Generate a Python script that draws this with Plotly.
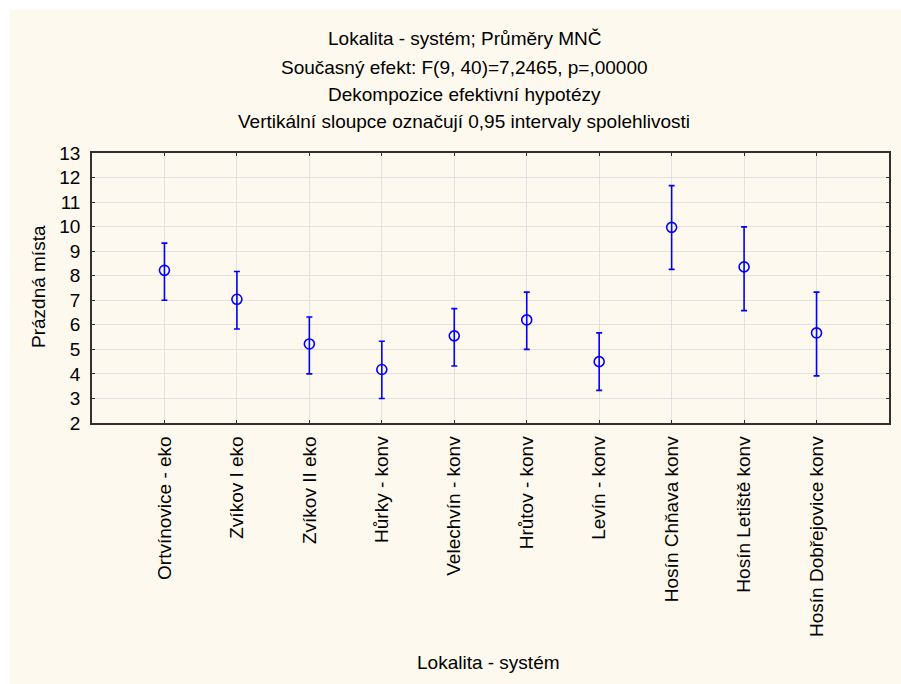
import plotly.graph_objects as go

categories = ["Ortvínovice - eko", "Zvíkov I eko", "Zvíkov II eko", "Hůrky - konv",
              "Velechvín - konv", "Hrůtov - konv", "Levín - konv", "Hosín Chňava konv",
              "Hosín Letiště konv", "Hosín Dobřejovice konv"]
means = [8.22, 7.04, 5.22, 4.18, 5.55, 6.20, 4.50, 9.97, 8.36, 5.67]
upper = [9.33, 8.17, 6.32, 5.33, 6.66, 7.33, 5.67, 11.67, 9.99, 7.33]
lower = [7.00, 5.83, 4.00, 3.00, 4.32, 5.00, 3.33, 8.26, 6.58, 3.92]
y_ticks = list(range(2, 14))

positions = list(range(1, len(categories) + 1))
err_plus = [u - m for u, m in zip(upper, means)]
err_minus = [m - l for m, l in zip(means, lower)]

W, H = 901, 684
ml, mr, mt, mb = 92, 12, 153, 261
FONT = "Arial, 'Liberation Sans', sans-serif"
FS = 19

fig = go.Figure()
fig.add_trace(go.Scatter(
    x=positions, y=means, mode="markers",
    marker=dict(symbol="circle-open", size=10, color="#0000FF", line=dict(width=1.6, color="#0000FF")),
    error_y=dict(type="data", symmetric=False, array=err_plus, arrayminus=err_minus,
                 color="#0000FF", thickness=1.6, width=3),
    showlegend=False, hoverinfo="skip",
))

axis_common = dict(showline=True, linecolor="#303030", linewidth=1.5, mirror="ticks",
                   ticks="inside", ticklen=3, tickcolor="#303030", tickwidth=1,
                   showgrid=True, gridcolor="#E2E2E2", gridwidth=1, zeroline=False)

fig.update_xaxes(range=[0, len(categories) + 1], tickvals=positions, ticktext=categories,
                 tickangle=-90, tickfont=dict(family=FONT, size=FS, color="#000"),
                 ticklabelstandoff=4, **axis_common)
fig.update_yaxes(range=[2, 13], tickvals=y_ticks, ticktext=[str(v) for v in y_ticks],
                 tickfont=dict(family=FONT, size=FS, color="#000"),
                 ticklabelstandoff=6, **axis_common)

# cream panel background with white border on top/left
fig.add_shape(type="rect", xref="paper", yref="paper", layer="below",
              x0=(10 - ml) / (W - ml - mr), x1=1 + (mr + 5) / (W - ml - mr),
              y0=-(mb + 5) / (H - mt - mb), y1=1 + (mt - 10) / (H - mt - mb),
              fillcolor="#FEF9EE", line=dict(width=0))

titles = ["Lokalita - systém; Průměry MNČ",
          "Současný efekt: F(9, 40)=7,2465, p=,00000",
          "Dekompozice efektivní hypotézy",
          "Vertikální sloupce označují 0,95 intervaly spolehlivosti"]
title_y = [39, 67, 94, 121]
pw, ph = W - ml - mr, H - mt - mb
for t, yy in zip(titles, title_y):
    fig.add_annotation(text=t, xref="paper", yref="paper",
                       x=(464 - ml) / pw, y=1 + (mt - yy) / ph,
                       xanchor="center", yanchor="middle", showarrow=False,
                       font=dict(family=FONT, size=FS, color="#000"))

# axis titles
fig.add_annotation(text="Lokalita - systém", xref="paper", yref="paper",
                   x=(488 - ml) / pw, y=-(662 - (H - mb)) / ph,
                   xanchor="center", yanchor="middle", showarrow=False,
                   font=dict(family=FONT, size=FS, color="#000"))
fig.add_annotation(text="Prázdná místa", xref="paper", yref="paper", textangle=-90,
                   x=-(ml - 38) / pw, y=1 - (287 - mt) / ph,
                   xanchor="center", yanchor="middle", showarrow=False,
                   font=dict(family=FONT, size=FS, color="#000"))

fig.update_layout(width=W, height=H, margin=dict(l=ml, r=mr, t=mt, b=mb, autoexpand=False),
                  paper_bgcolor="#FFFFFF", plot_bgcolor="#FFFFFF")

fig.write_html("out.html")
